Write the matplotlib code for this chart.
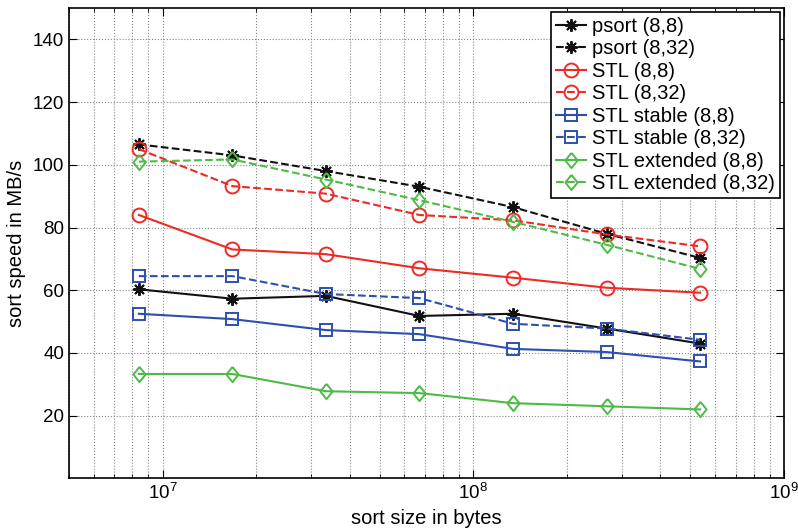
import matplotlib
matplotlib.use("Agg")
import matplotlib.pyplot as plt
from matplotlib.ticker import LogLocator, NullFormatter

plt.rcParams["font.family"] = ["Liberation Sans", "DejaVu Sans"]

# input sizes 2^23 .. 2^29 bytes
sizes = [2 ** k for k in range(23, 30)]

psort_8_8 = [60.3, 57.3, 58.2, 51.8, 52.5, 47.8, 43.0]
psort_8_32 = [106.5, 103.0, 98.0, 93.0, 86.5, 78.0, 70.3]
stl_8_8 = [84.0, 73.0, 71.5, 67.0, 64.0, 60.8, 59.2]
stl_8_32 = [105.0, 93.2, 90.8, 84.0, 82.3, 77.8, 74.0]
stable_8_8 = [52.5, 50.8, 47.3, 46.0, 41.3, 40.3, 37.3]
stable_8_32 = [64.5, 64.5, 58.8, 57.5, 49.3, 47.8, 44.2]
ext_8_8 = [33.3, 33.3, 27.8, 27.2, 24.0, 23.0, 22.0]
ext_8_32 = [101.0, 101.7, 95.3, 88.7, 81.8, 74.5, 66.8]

BLACK = "#111111"
RED = "#ee2a24"
BLUE = "#2d4fb0"
GREEN = "#4dbb45"

# matlab-style markers: 8-armed asterisk and a wide diamond
ASTER = (8, 2, 0)
DIAMOND = [(0, 1), (0.8, 0), (0, -1), (-0.8, 0), (0, 1)]

series = [
    ("psort (8,8)", psort_8_8, BLACK, ASTER, "-", 9),
    ("psort (8,32)", psort_8_32, BLACK, ASTER, "--", 9),
    ("STL (8,8)", stl_8_8, RED, "o", "-", 10),
    ("STL (8,32)", stl_8_32, RED, "o", "--", 10),
    ("STL stable (8,8)", stable_8_8, BLUE, "s", "-", 8),
    ("STL stable (8,32)", stable_8_32, BLUE, "s", "--", 8),
    ("STL extended (8,8)", ext_8_8, GREEN, DIAMOND, "-", 11),
    ("STL extended (8,32)", ext_8_32, GREEN, DIAMOND, "--", 11),
]

fig = plt.figure(figsize=(7.98, 5.31), dpi=100)
ax = fig.add_axes([0.0865, 0.099, 0.896, 0.886])

for label, vals, color, marker, ls, ms in series:
    ax.plot(sizes, vals, ls=ls, color=color, lw=1.5, marker=marker,
            markersize=ms, markerfacecolor="none",
            markeredgecolor=color, markeredgewidth=1.4, label=label)

ax.set_xscale("log")
ax.set_xlim(5e6, 1e9)
ax.set_ylim(0, 150)
ax.set_yticks([20, 40, 60, 80, 100, 120, 140])
ax.xaxis.set_minor_locator(LogLocator(base=10, subs=range(2, 10)))
ax.xaxis.set_minor_formatter(NullFormatter())

ax.grid(True, which="major", ls=":", color="#888888", lw=0.8)
ax.grid(True, which="minor", axis="x", ls=":", color="#888888", lw=0.8)
ax.tick_params(which="both", direction="in", top=True, right=True, labelsize=13.5)
ax.tick_params(which="major", length=6)
ax.tick_params(which="minor", length=3)
for sp in ax.spines.values():
    sp.set_linewidth(1.2)

ax.set_xlabel("sort size in bytes", fontsize=14.5, labelpad=4)
ax.set_ylabel("sort speed in MB/s", fontsize=14.5, labelpad=5)

leg = ax.legend(loc="upper right", fontsize=14.5, fancybox=False, framealpha=1,
                edgecolor="black", handlelength=1.5, handletextpad=0.3,
                labelspacing=0.17, borderpad=0.25, borderaxespad=0.2)
leg.get_frame().set_linewidth(1.2)

fig.savefig("out.png", dpi=100)
